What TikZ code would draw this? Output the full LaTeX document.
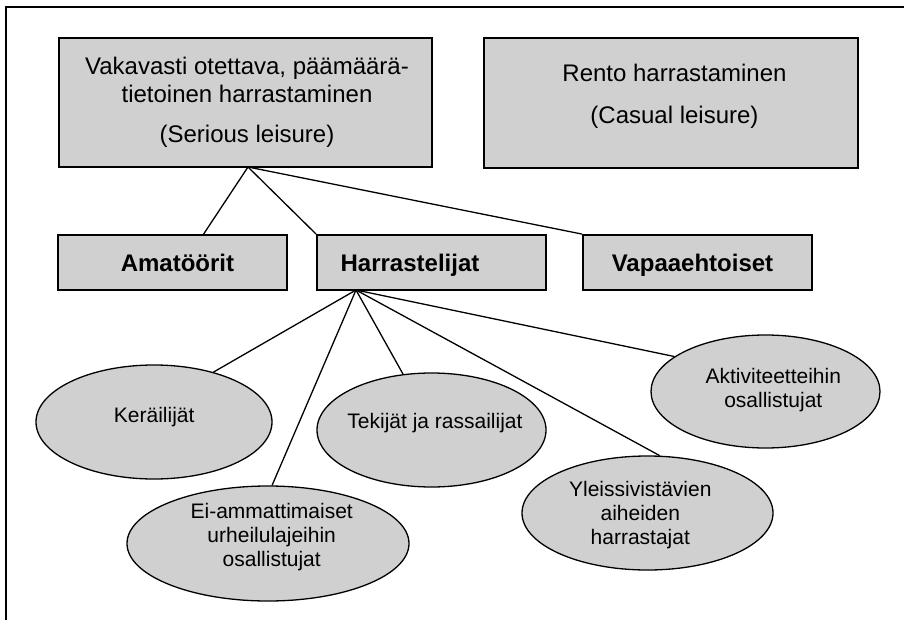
\documentclass[tikz,border=0pt]{standalone}
\usepackage{fontspec}
\setmainfont{Liberation Sans}
\usetikzlibrary{shapes.geometric}
\definecolor{boxgray}{RGB}{208,208,208}
\begin{document}
\begin{tikzpicture}[x=1pt,y=-1pt,
  frameline/.style={line width=2pt, line cap=rect},
  boxshape/.style={draw=black, line width=1.8pt, fill=boxgray, inner sep=0pt},
  ovalshape/.style={ellipse, draw=black, line width=1.3pt, fill=boxgray, inner sep=0pt},
  boxtext/.style={inner sep=0pt, align=center, font=\fontsize{24}{27.5}\selectfont},
  boldtext/.style={inner sep=0pt, anchor=base, font=\fontsize{24}{27.5}\selectfont\bfseries},
  ovaltext/.style={inner sep=0pt, align=center, font=\fontsize{21}{24}\selectfont},
  link/.style={line width=1.3pt}
]
\useasboundingbox (0,0) rectangle (904,620);

% outer frame: only the top and left edges are drawn
\coordinate (ftr) at (906,7.5);
\coordinate (ftl) at (5.5,7.5);
\coordinate (fbl) at (5.5,622);
\draw[frameline] (ftr) -- (ftl) -- (fbl);

% top level boxes
\node[boxshape, minimum width=373pt, minimum height=129pt] (serious) at (245.5,102.5) {};
\node[boxshape, minimum width=374pt, minimum height=130pt] (casual) at (671,103) {};
\node[boxtext] (serioustxt) at (247,102.5)
  {Vakavasti otettava, päämäärä-\\tietoinen harrastaminen\\[12.5pt](Serious leisure)};
\node[boxtext] (casualtxt) at (674.5,96.5)
  {Rento harrastaminen\\[15pt](Casual leisure)};

% second level boxes
\node[boxshape, minimum width=229pt, minimum height=55pt] (amat) at (172.5,262.5) {};
\node[boxshape, minimum width=229pt, minimum height=55pt] (harr) at (431.5,262.5) {};
\node[boxshape, minimum width=229pt, minimum height=55pt] (vapa) at (697.5,262.5) {};
\node[boldtext] (amattxt) at (177.5,271.7) {Amatöörit};
\node[boldtext] (harrtxt) at (410,271.7) {Harrastelijat};
\node[boldtext] (vapatxt) at (692.5,271.7) {Vapaaehtoiset};

% third level ovals
\node[ovalshape, minimum width=236pt, minimum height=114pt] (ker) at (154,422) {};
\node[ovalshape, minimum width=282pt, minimum height=115pt] (ei) at (268,543.5) {};
\node[ovalshape, minimum width=229pt, minimum height=114pt] (tek) at (431.5,430) {};
\node[ovalshape, minimum width=251pt, minimum height=114pt] (yle) at (647.5,513) {};
\node[ovalshape, minimum width=229pt, minimum height=113pt] (akt) at (765.5,391.5) {};

\node[ovaltext, anchor=base] (kertxt) at (154.2,422.3) {Keräilijät};
\node[ovaltext, anchor=base] (tektxt) at (435,428.3) {Tekijät ja rassailijat};
\node[ovaltext] (eitxt) at (271.7,537.5) {Ei-ammattimaiset\\urheilulajeihin\\osallistujat};
\node[ovaltext] (yletxt) at (640.3,515.4) {Yleissivistävien\\aiheiden\\harrastajat};
\node[ovaltext] (akttxt) at (773.3,389.7) {Aktiviteetteihin\\osallistujat};

% connector end points on the box edges
\coordinate (sapex) at (248,167);
\coordinate (amattop) at (203,235);
\coordinate (happex) at (356,290);

% connectors
\draw[link] (sapex) -- (amattop);
\draw[link] (sapex) -- (harr.north west);
\draw[link] (sapex) -- (vapa.north west);

\draw[link] (happex) -- (ker.40.8);
\draw[link] (happex) -- (ei.86);
\draw[link] (happex) -- (tek.117);
\draw[link] (happex) -- (yle.78.6);
\draw[link] (happex) -- (akt.159.5);
\end{tikzpicture}
\end{document}
